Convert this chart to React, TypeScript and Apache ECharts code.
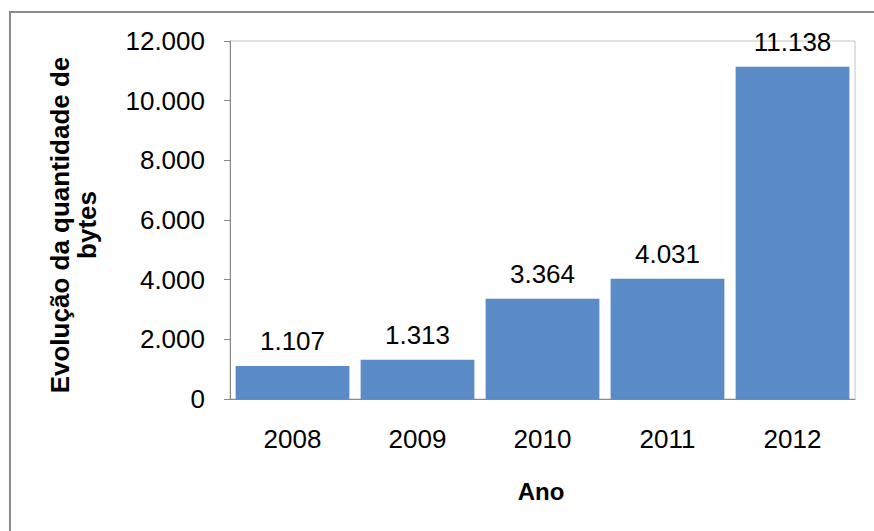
import React, { useEffect, useRef } from "react";
import * as echarts from "echarts";

const categories = ["2008", "2009", "2010", "2011", "2012"];
const values = [1107, 1313, 3364, 4031, 11138];
const yTicks = [0, 2000, 4000, 6000, 8000, 10000, 12000];

const fmt = (v: number) => String(v).replace(/\B(?=(\d{3})+(?!\d))/g, ".");

export default function App() {
  const ref = useRef<HTMLDivElement>(null);
  useEffect(() => {
    const chart = echarts.init(ref.current!, undefined, { renderer: "svg" });
    chart.setOption({
      animation: false,
      backgroundColor: "#ffffff",
      textStyle: { fontFamily: "Liberation Sans, Arial, sans-serif" },
      grid: {
        left: 230,
        top: 41,
        right: 19,
        bottom: 132,
        show: true,
        borderColor: "#c4c4c4",
        borderWidth: 1,
      },
      graphic: [
        {
          type: "rect",
          shape: { x: 10, y: 12, width: 900, height: 600 },
          style: { fill: "none", stroke: "#8a8a8a", lineWidth: 2 },
          silent: true,
        },
        {
          type: "text",
          x: 73,
          y: 225,
          rotation: Math.PI / 2,
          style: {
            text: "Evolução da quantidade de\nbytes",
            fontFamily: "Liberation Sans, Arial, sans-serif",
            fontSize: 26,
            fontWeight: "bold",
            fill: "#000",
            align: "center",
            verticalAlign: "middle",
            lineHeight: 27,
          },
        },
        {
          type: "text",
          x: 541,
          y: 491,
          style: {
            text: "Ano",
            fontFamily: "Liberation Sans, Arial, sans-serif",
            fontSize: 24,
            fontWeight: "bold",
            fill: "#000",
            align: "center",
            verticalAlign: "middle",
          },
        },
      ],
      xAxis: {
        type: "category",
        data: categories,
        axisLine: { show: true, lineStyle: { color: "#888888", width: 1 } },
        axisTick: { show: false },
        axisLabel: { color: "#000", fontSize: 26, margin: 27 },
      },
      yAxis: {
        type: "value",
        min: 0,
        max: 12000,
        interval: 2000,
        axisLine: { show: true, lineStyle: { color: "#888888", width: 1 } },
        axisTick: { show: true, length: 6, lineStyle: { color: "#888888" } },
        splitLine: { show: false },
        axisLabel: {
          color: "#000",
          fontSize: 26,
          margin: 25,
          formatter: (v: number) => (yTicks.includes(v) ? fmt(v) : ""),
        },
      },
      series: [
        {
          type: "bar",
          data: values,
          barCategoryGap: "9%",
          itemStyle: { color: "#5b8bc6" },
          label: {
            show: true,
            position: "top",
            distance: 12,
            color: "#000",
            fontSize: 26,
            formatter: (p: any) => fmt(p.value),
          },
        },
      ],
    });
    return () => chart.dispose();
  }, []);
  return (
    <div
      ref={ref}
      style={{ position: "fixed", left: 0, top: 0, width: 874, height: 531 }}
    />
  );
}
